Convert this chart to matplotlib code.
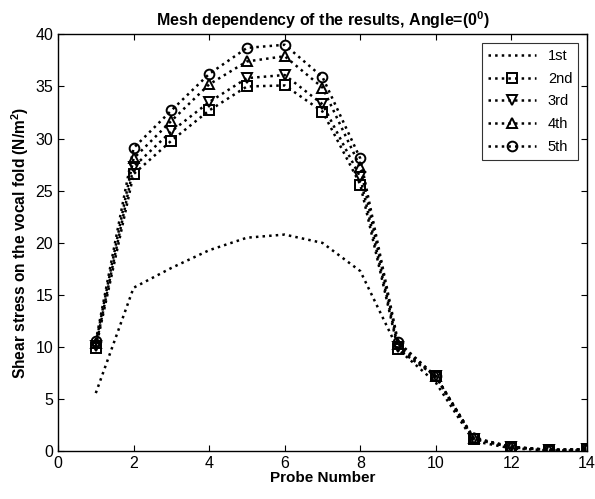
import matplotlib
matplotlib.use("Agg")
import matplotlib.pyplot as plt

plt.rcParams["font.family"] = ["Liberation Sans", "DejaVu Sans"]
plt.rcParams["mathtext.fontset"] = "custom"
plt.rcParams["mathtext.rm"] = "Liberation Sans"
plt.rcParams["mathtext.bf"] = "Liberation Sans:bold"

probe = [1, 2, 3, 4, 5, 6, 7, 8, 9, 10, 11, 12, 13, 14]
mesh_1st = [5.6, 15.7, 17.6, 19.3, 20.5, 20.8, 20.0, 17.3, 9.8, 6.6, 1.0, 0.3, 0.1, 0.1]
mesh_2nd = [9.9, 26.6, 29.8, 32.7, 35.0, 35.1, 32.6, 25.6, 9.8, 7.2, 1.2, 0.4, 0.15, 0.2]
mesh_3rd = [10.1, 27.3, 30.7, 33.5, 35.8, 36.1, 33.3, 26.3, 10.0, 7.2, 1.2, 0.4, 0.15, 0.2]
mesh_4th = [10.4, 28.1, 31.7, 35.2, 37.4, 37.9, 34.9, 27.3, 10.3, 7.2, 1.3, 0.45, 0.15, 0.2]
mesh_5th = [10.6, 29.1, 32.7, 36.2, 38.7, 39.0, 35.9, 28.1, 10.5, 7.2, 1.3, 0.45, 0.15, 0.2]

labels = ["1st", "2nd", "3rd", "4th", "5th"]
series = [mesh_1st, mesh_2nd, mesh_3rd, mesh_4th, mesh_5th]
markers = [None, "s", "v", "^", "o"]

fig = plt.figure(figsize=(5.95, 4.99), dpi=100)
ax = fig.add_axes([0.0975, 0.0952, 0.889, 0.836])

for vals, lab, mk in zip(series, labels, markers):
    ax.plot(probe, vals, color="black", linestyle=":", linewidth=1.8,
            marker=mk, markersize=7, markerfacecolor="none",
            markeredgecolor="black", markeredgewidth=1.4, label=lab)

ax.set_xlim(0, 14)
ax.set_ylim(0, 40)
ax.set_xticks(range(0, 15, 2))
ax.set_yticks(range(0, 41, 5))
ax.tick_params(direction="in", top=True, right=True, length=4, labelsize=11.5)
for s in ax.spines.values():
    s.set_linewidth(1.0)

ax.set_title("Mesh dependency of the results, Angle=(0$^\\mathbf{0}$)",
             fontsize=11.5, fontweight="bold", pad=6)
ax.set_xlabel("Probe Number", fontsize=11, fontweight="bold", labelpad=0)
ax.set_ylabel("Shear stress on the vocal fold (N/m$^\\mathbf{2}$)",
              fontsize=11.2, fontweight="bold", labelpad=3)

leg = ax.legend(loc="upper right", fontsize=10.5, frameon=True, fancybox=False,
                edgecolor="black", handlelength=3.3, borderaxespad=0.6,
                labelspacing=0.6)
leg.get_frame().set_linewidth(0.8)

fig.savefig("out.png", dpi=100)
